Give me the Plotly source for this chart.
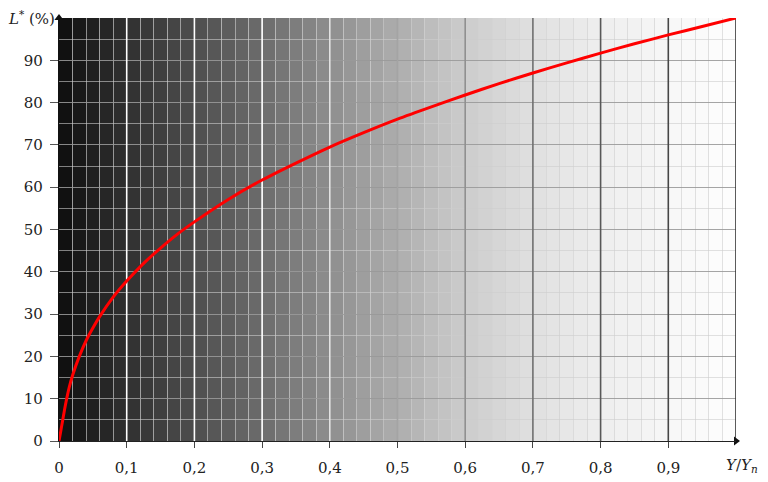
import plotly.graph_objects as go
from plotly.colors import sample_colorscale, hex_to_rgb
import numpy as np

# Y/Yn and L*
y_rel = [0, 0.002, 0.005, 0.00886, 0.015, 0.02, 0.03, 0.04, 0.05, 0.06, 0.08, 0.1,
         0.125, 0.15, 0.175, 0.2, 0.25, 0.3, 0.35, 0.4, 0.45, 0.5, 0.55, 0.6,
         0.65, 0.7, 0.75, 0.8, 0.85, 0.9, 0.95, 1.0]
l_star = [0, 1.8, 4.5, 8.0, 12.6, 15.5, 20.0, 23.7, 26.7, 29.4, 34.0, 37.8,
          42.0, 45.6, 48.9, 51.8, 57.1, 61.7, 65.7, 69.5, 72.9, 76.1, 79.0, 81.8,
          84.5, 87.0, 89.4, 91.7, 93.9, 96.0, 98.0, 100]

# background grey ramp (stops)
grey_pos = [0, 0.1, 0.2, 0.3, 0.4, 0.5, 0.6, 0.7, 0.8, 0.9, 1.0]
grey_hex = ["#0e0e0e", "#303030", "#4e4e4e", "#6c6c6c", "#8e8e8e", "#adadad",
            "#cccccc", "#e0e0e0", "#eeeeee", "#f7f7f7", "#fefefe"]

# major vertical grid lines and their colours
major_x = [0.1, 0.2, 0.3, 0.4, 0.5, 0.6, 0.7, 0.8, 0.9, 1.0]
major_col = ["#ffffff", "#ffffff", "#ffffff", "#e2e2e2", "#a4a4a4",
             "#909090", "#707070", "#585858", "#464646", "#333333"]

x_ticks = [0, 0.1, 0.2, 0.3, 0.4, 0.5, 0.6, 0.7, 0.8, 0.9]
x_labels = ["0", "0,1", "0,2", "0,3", "0,4", "0,5", "0,6", "0,7", "0,8", "0,9"]
y_ticks = [0, 10, 20, 30, 40, 50, 60, 70, 80, 90]

FONT = "DejaVu Serif"
scale = [[p, "rgb(%d,%d,%d)" % hex_to_rgb(h)] for p, h in zip(grey_pos, grey_hex)]

shapes = []
# stepped background bands, one per minor grid cell
edges = np.linspace(0, 1, 51)
centers = (edges[:-1] + edges[1:]) / 2
band_cols = sample_colorscale(scale, list(centers))
for x0, x1, c in zip(edges[:-1], edges[1:], band_cols):
    shapes.append(dict(type="rect", xref="x", yref="y", x0=x0, x1=x1, y0=0, y1=100,
                       fillcolor=c, line=dict(width=0), layer="below"))

for xv, c in zip(major_x, major_col):
    shapes.append(dict(type="line", xref="x", yref="y", x0=xv, x1=xv, y0=0, y1=100,
                       line=dict(color=c, width=1.6), layer="between"))

fig = go.Figure()
fig.add_trace(go.Scatter(
    x=y_rel, y=l_star, mode="lines",
    line=dict(color="#ff0000", width=3, shape="spline", smoothing=0.6),
    hoverinfo="skip", showlegend=False
))
# arrow heads at the ends of both axes
fig.add_trace(go.Scatter(
    x=[1, 0], y=[0, 100], mode="markers", cliponaxis=False,
    marker=dict(symbol=["triangle-right", "triangle-up"], size=8, color="#111111"),
    hoverinfo="skip", showlegend=False
))

fig.update_layout(
    width=768, height=482,
    margin=dict(l=51, r=40, t=10, b=49),
    paper_bgcolor="white",
    plot_bgcolor="white",
    font=dict(family=FONT, size=15, color="#222222"),
    shapes=shapes,
    annotations=[
        dict(text="<i>L</i><sup>*</sup> (%)", xref="paper", yref="paper", x=0, y=1,
             xanchor="right", yanchor="middle", xshift=-2, showarrow=False,
             font=dict(family=FONT, size=15, color="#222222")),
        dict(text="<i>Y</i>/<i>Y</i><sub><i>n</i></sub>", xref="x", yref="y", x=1, y=0,
             xanchor="center", yanchor="top", xshift=6, yshift=-13, showarrow=False,
             font=dict(family=FONT, size=15, color="#222222")),
    ],
)

fig.update_xaxes(
    range=[0, 1], showgrid=False, zeroline=False,
    tickmode="array", tickvals=x_ticks, ticktext=x_labels,
    ticks="outside", ticklen=6, tickwidth=1, tickcolor="#444444",
    ticklabelstandoff=7, automargin=False,
    showline=True, linecolor="#222222", linewidth=1.4,
    minor=dict(dtick=0.02, tick0=0, showgrid=True,
               gridcolor="rgba(205,205,205,0.6)", gridwidth=1),
    fixedrange=True,
)

fig.update_yaxes(
    range=[0, 100], zeroline=False,
    tickmode="array", tickvals=y_ticks,
    showgrid=True, gridcolor="rgba(140,140,140,0.7)", gridwidth=1,
    ticks="outside", ticklen=8, tickwidth=1, tickcolor="#555555",
    ticklabelstandoff=4, automargin=False,
    showline=True, linecolor="#111111", linewidth=1.4,
    minor=dict(dtick=5, tick0=0, showgrid=True,
               gridcolor="rgba(205,205,205,0.6)", gridwidth=1),
    fixedrange=True,
)

fig.write_html("out.html")
